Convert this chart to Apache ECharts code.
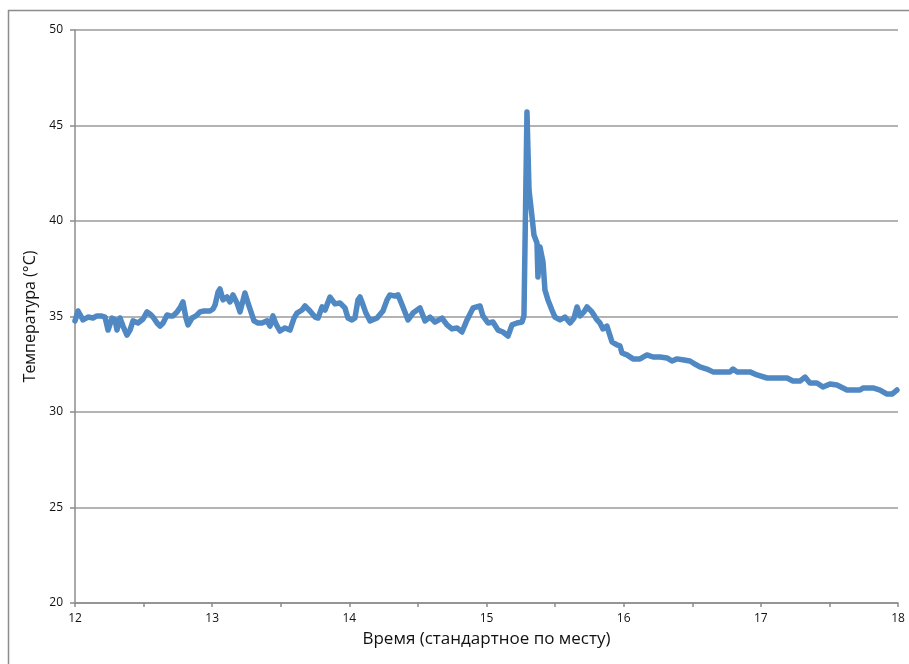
<!DOCTYPE html>
<html>
<head>
<meta charset="utf-8">
<script src="https://cdn.jsdelivr.net/npm/echarts@6/dist/echarts.min.js"></script>
<style>
  html, body { margin: 0; padding: 0; background: #fff; }
  #chart { width: 909px; height: 664px; }
</style>
</head>
<body>
<div id="chart"></div>
<script>
// время, часы
var hours = [
  12.000, 12.022, 12.058, 12.095, 12.131, 12.160, 12.190, 12.219, 12.241, 12.270,
  12.292, 12.306, 12.328, 12.350, 12.379, 12.401, 12.423, 12.459, 12.496, 12.525,
  12.547, 12.569, 12.598, 12.620, 12.642, 12.671, 12.693, 12.714, 12.744, 12.765,
  12.787, 12.809, 12.824, 12.853, 12.882, 12.911, 12.940, 12.962, 12.984, 13.006,
  13.021, 13.043, 13.057, 13.079, 13.108, 13.130, 13.152, 13.181, 13.203, 13.217,
  13.239, 13.261, 13.283, 13.305, 13.334, 13.363, 13.400, 13.422, 13.443, 13.465,
  13.494, 13.531, 13.567, 13.597, 13.618, 13.655, 13.677, 13.713, 13.750, 13.772,
  13.801, 13.823, 13.859, 13.895, 13.932, 13.968, 13.990, 14.019, 14.041, 14.063,
  14.078, 14.100, 14.121, 14.151, 14.202, 14.245, 14.275, 14.296, 14.333, 14.355,
  14.391, 14.428, 14.464, 14.515, 14.552, 14.588, 14.624, 14.676, 14.712, 14.748,
  14.785, 14.821, 14.858, 14.902, 14.953, 14.974, 15.011, 15.047, 15.084, 15.120,
  15.157, 15.186, 15.222, 15.259, 15.273, 15.295, 15.310, 15.332, 15.346, 15.368,
  15.375, 15.390, 15.412, 15.426, 15.448, 15.477, 15.499, 15.536, 15.572, 15.609,
  15.638, 15.660, 15.682, 15.711, 15.733, 15.769, 15.806, 15.827, 15.849, 15.878,
  15.915, 15.951, 15.973, 15.988, 16.024, 16.068, 16.119, 16.170, 16.214, 16.265,
  16.316, 16.352, 16.389, 16.440, 16.483, 16.520, 16.556, 16.607, 16.651, 16.702,
  16.775, 16.797, 16.826, 16.877, 16.921, 16.972, 17.045, 17.118, 17.191, 17.234,
  17.285, 17.322, 17.358, 17.409, 17.453, 17.504, 17.555, 17.628, 17.686, 17.723,
  17.745, 17.818, 17.869, 17.920, 17.956, 17.992
];

// температура, °C
var temps = [
  34.77, 35.29, 34.82, 34.97, 34.92, 35.03, 35.03, 34.97, 34.29, 34.92,
  34.82, 34.29, 34.92, 34.50, 34.03, 34.29, 34.77, 34.66, 34.87, 35.24,
  35.13, 34.97, 34.66, 34.50, 34.66, 35.08, 35.03, 35.03, 35.24, 35.45,
  35.76, 34.92, 34.56, 34.92, 35.03, 35.24, 35.29, 35.29, 35.29, 35.39,
  35.60, 36.28, 36.44, 35.87, 36.02, 35.76, 36.13, 35.71, 35.24, 35.34,
  36.23, 35.71, 35.24, 34.77, 34.66, 34.66, 34.77, 34.50, 35.03, 34.61,
  34.24, 34.40, 34.29, 34.92, 35.18, 35.34, 35.55, 35.29, 34.97, 34.92,
  35.50, 35.34, 36.02, 35.66, 35.71, 35.45, 34.92, 34.82, 34.92, 35.87,
  36.02, 35.60, 35.18, 34.77, 34.92, 35.29, 35.87, 36.13, 36.07, 36.13,
  35.50, 34.82, 35.18, 35.45, 34.77, 34.97, 34.71, 34.92, 34.56, 34.35,
  34.40, 34.19, 34.82, 35.45, 35.55, 35.03, 34.66, 34.71, 34.29, 34.19,
  33.98, 34.56, 34.66, 34.71, 35.03, 45.71, 41.62, 40.21, 39.27, 38.85,
  37.07, 38.64, 37.85, 36.39, 35.87, 35.34, 34.97, 34.82, 34.97, 34.66,
  34.92, 35.50, 35.03, 35.24, 35.50, 35.24, 34.82, 34.66, 34.35, 34.50,
  33.67, 33.51, 33.46, 33.09, 32.99, 32.78, 32.78, 32.99, 32.88, 32.88,
  32.83, 32.67, 32.78, 32.72, 32.67, 32.51, 32.36, 32.25, 32.10, 32.10,
  32.10, 32.25, 32.10, 32.10, 32.10, 31.94, 31.78, 31.78, 31.78, 31.62,
  31.62, 31.83, 31.52, 31.52, 31.31, 31.47, 31.41, 31.15, 31.15, 31.15,
  31.26, 31.26, 31.15, 30.94, 30.94, 31.15
];

var xMin = 12, xMax = 18, xStep = 0.5;
var yMin = 20, yMax = 50, yStep = 5;

var xTitle = 'Время (стандартное по месту)';
var yTitle = 'Температура (°C)';

var points = hours.map(function (h, i) {
  return [h, temps[i]];
});

var chart = echarts.init(document.getElementById('chart'), null, {
  renderer: 'canvas'
});

var font = '"Open Sans", "Noto Sans", sans-serif';

var option = {
  backgroundColor: '#fff',
  animation: false,
  textStyle: {
    fontFamily: font
  },
  graphic: [{
    type: 'rect',
    shape: { x: 8.5, y: 10.5, width: 920, height: 680 },
    style: { fill: 'none', stroke: '#8c8c8c', lineWidth: 1.5 },
    silent: true
  }],
  grid: {
    left: 75,
    right: 11,
    top: 30,
    bottom: 61
  },
  xAxis: {
    type: 'value',
    min: xMin,
    max: xMax,
    interval: xStep,
    name: xTitle,
    nameLocation: 'middle',
    nameGap: 28,
    nameTextStyle: {
      color: '#111',
      fontSize: 17,
      fontFamily: font
    },
    axisLine: {
      lineStyle: { color: '#8c8c8c', width: 1.5 }
    },
    axisTick: {
      show: true,
      length: 4,
      lineStyle: { color: '#8c8c8c', width: 1.5 }
    },
    axisLabel: {
      color: '#111',
      fontSize: 12,
      margin: 10,
      formatter: function (v) {
        return v % 1 === 0 ? String(v) : '';
      }
    },
    splitLine: { show: false }
  },
  yAxis: {
    type: 'value',
    min: yMin,
    max: yMax,
    interval: yStep,
    name: yTitle,
    nameLocation: 'middle',
    nameGap: 34,
    nameTextStyle: {
      color: '#111',
      fontSize: 16,
      fontFamily: font
    },
    axisLine: {
      show: true,
      lineStyle: { color: '#8c8c8c', width: 1.5 }
    },
    axisTick: {
      show: true,
      length: 5,
      lineStyle: { color: '#8c8c8c', width: 1.5 }
    },
    axisLabel: {
      color: '#111',
      fontSize: 12,
      margin: 12
    },
    splitLine: {
      show: true,
      lineStyle: { color: '#9a9a9a', width: 1.5 }
    }
  },
  series: [{
    type: 'line',
    data: points,
    showSymbol: false,
    symbol: 'none',
    smooth: false,
    lineStyle: {
      color: '#4f88c3',
      width: 5.5,
      join: 'round',
      cap: 'round'
    }
  }]
};

chart.setOption(option);
</script>
</body>
</html>
